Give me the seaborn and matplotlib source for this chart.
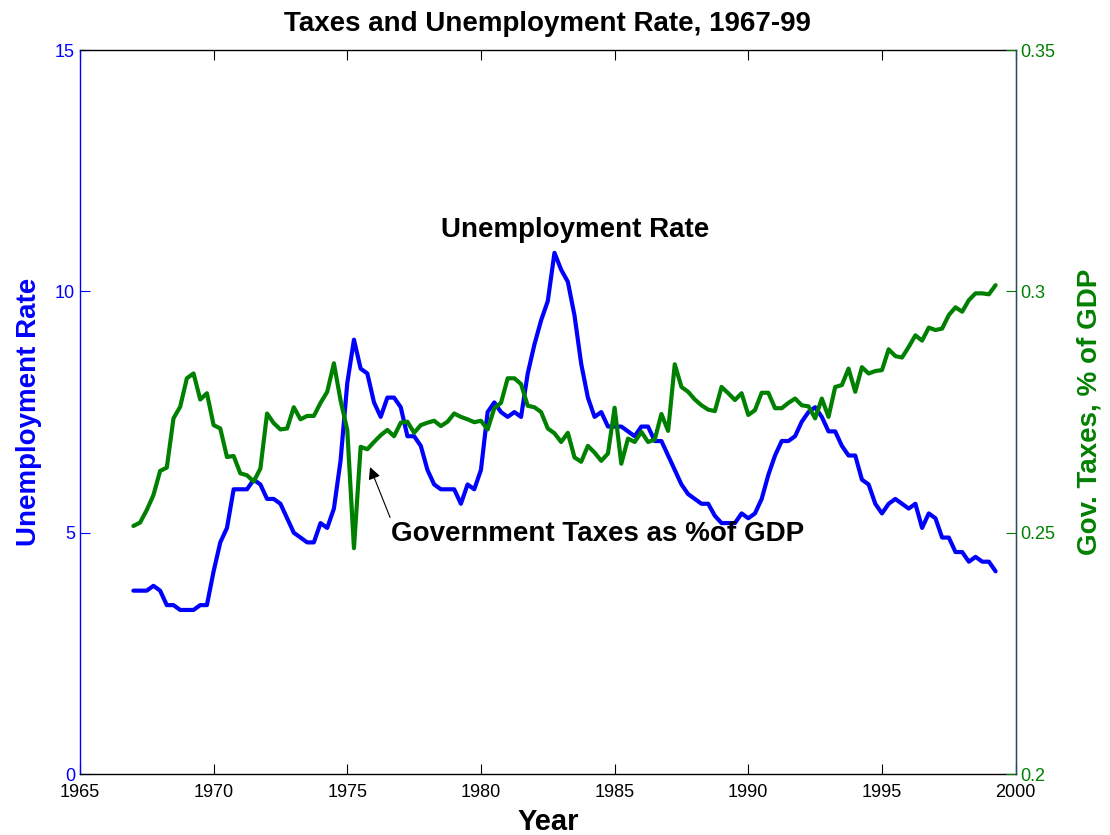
import numpy as np
import pandas as pd
import matplotlib
matplotlib.use("Agg")
import matplotlib.pyplot as plt
import seaborn as sns

# quarterly data, 1967Q1 .. 1999Q2
START_YEAR = 1967
unemployment = [
    3.8, 3.8, 3.8, 3.9, 3.8, 3.5, 3.5, 3.4, 3.4, 3.4, 3.5, 3.5, 4.2, 4.8, 5.1, 5.9, 5.9, 5.9, 6.1, 6.0, 5.7, 5.7,
    5.6, 5.3, 5.0, 4.9, 4.8, 4.8, 5.2, 5.1, 5.5, 6.5, 8.1, 9.0, 8.4, 8.3, 7.7, 7.4, 7.8, 7.8, 7.6, 7.0,
    7.0, 6.8, 6.3, 6.0, 5.9, 5.9, 5.9, 5.6, 6.0, 5.9, 6.3, 7.5, 7.7, 7.5, 7.4, 7.5, 7.4, 8.3, 8.9, 9.4, 9.8, 10.8, 10.45,
    10.2, 9.5, 8.5, 7.8, 7.4, 7.5, 7.2, 7.2, 7.2, 7.1, 7.0, 7.2, 7.2, 6.9, 6.9, 6.6, 6.3, 6.0, 5.8, 5.7, 5.6, 5.6,
    5.35, 5.2, 5.2, 5.2, 5.4, 5.3, 5.4, 5.7, 6.2, 6.6, 6.9, 6.9, 7.0, 7.3, 7.5, 7.6, 7.4, 7.1, 7.1, 6.8, 6.6, 6.6,
    6.1, 6.0, 5.6, 5.4, 5.6, 5.7, 5.6, 5.5, 5.6, 5.1, 5.4, 5.3, 4.9, 4.9, 4.6, 4.6, 4.4, 4.5, 4.4, 4.4, 4.2,
]
taxes_gdp = [
    .2514, .2521, .2547, .2578, .2628, .2635, .2737, .2761, .2820, .2830, .2776, .2789, .2723, .2716, .2657, .2659,
    .2623, .2619, .2606, .2633, .2747, .2727,
    .2714, .2716, .2760, .2735, .2742, .2742, .2769, .2792, .2851, .2774, .2713, .2468, .2678, .2673, .2688, .2702,
    .2713, .2700, .2728, .2730,
    .2707, .2723, .2728, .2732, .2721, .2730, .2747, .2740, .2735, .2729, .2732, .2714, .2758, .2769, .2820, .2820,
    .2808, .2763, .2760, .2750, .2716, .2706, .2688,
    .2707, .2656, .2647, .2680, .2666, .2649, .2664, .2759, .2643, .2695, .2688, .2709, .2688, .2693, .2746, .2711,
    .2849, .2802, .2792, .2776, .2764, .2755,
    .2752, .2802, .2789, .2775, .2789, .2744, .2754, .2790, .2790, .2758, .2758, .2769, .2778, .2764, .2762, .2737,
    .2778, .2740, .2802, .2806, .2840, .2792,
    .2843, .2830, .2835, .2837, .2880, .2866, .2863, .2885, .2909, .2898, .2925, .2920, .2923, .2951, .2967, .2958,
    .2982, .2996, .2996, .2994, .3013,
]
x_ticks = [1965, 1970, 1975, 1980, 1985, 1990, 1995, 2000]
left_ticks = [0, 5, 10, 15]
right_ticks = [0.2, 0.25, 0.3, 0.35]
right_tick_labels = ["0.2", "0.25", "0.3", "0.35"]

BLUE = "#0000ff"
GREEN = "#008000"

df = pd.DataFrame({
    "year": START_YEAR + np.arange(len(unemployment)) * 0.25,
    "unemp": unemployment,
    "tax": taxes_gdp,
})

sns.set_style("white")
plt.rcParams["font.family"] = ["Liberation Sans", "DejaVu Sans"]
plt.rcParams["text.color"] = "black"
plt.rcParams["axes.labelcolor"] = "black"

fig = plt.figure(figsize=(11.1, 8.35), dpi=100)
ax = fig.add_axes([0.072, 0.073, 0.843, 0.867])
ax2 = ax.twinx()

sns.lineplot(data=df, x="year", y="unemp", ax=ax, color=BLUE, linewidth=3.0)
sns.lineplot(data=df, x="year", y="tax", ax=ax2, color=GREEN, linewidth=3.0)

ax.set_xlim(1965, 2000)
ax.set_ylim(0, 15)
ax2.set_ylim(0.2, 0.35)
ax.set_xticks(x_ticks)
ax.set_xticklabels([str(t) for t in x_ticks], fontsize=13)
ax.set_yticks(left_ticks)
ax.set_yticklabels([str(t) for t in left_ticks], fontsize=13, color=BLUE)
ax2.set_yticks(right_ticks)
ax2.set_yticklabels(right_tick_labels, fontsize=13, color=GREEN)

ax.tick_params(axis="x", direction="in", length=7, top=True, bottom=True, colors="black", pad=7)
ax.tick_params(axis="y", direction="in", length=7, colors=BLUE, left=True, right=False)
ax2.tick_params(axis="y", direction="in", length=7, colors=GREEN, right=True, left=False)
ax2.tick_params(axis="x", top=False, bottom=False)

for sp in ax.spines.values():
    sp.set_linewidth(1.0)
ax.spines["left"].set_color(BLUE)
ax.spines["top"].set_color("black")
ax.spines["bottom"].set_color("black")
ax2.spines["right"].set_color("#1f5060")
ax2.spines["left"].set_visible(False)
ax2.spines["top"].set_visible(False)
ax2.spines["bottom"].set_visible(False)

ax.set_xlabel("Year", fontsize=21, fontweight="bold", labelpad=5)
ax.set_ylabel("Unemployment Rate", fontsize=20, fontweight="bold", color=BLUE, labelpad=9)
ax2.set_ylabel("Gov. Taxes, % of GDP", fontsize=20, fontweight="bold", color=GREEN, labelpad=15)
ax.set_title("Taxes and Unemployment Rate, 1967-99", fontsize=20, fontweight="bold", pad=14)

ax.text(1978.5, 11.27, "Unemployment Rate", fontsize=20, fontweight="bold",
        ha="left", va="center")
ax.annotate("Government Taxes as %of GDP", xy=(1975.85, 6.36), xytext=(1976.65, 4.98),
            fontsize=20, fontweight="bold", ha="left", va="center",
            arrowprops=dict(arrowstyle="-|>", color="black", lw=0.8, shrinkA=0, shrinkB=0,
                            mutation_scale=18, relpos=(0.0, 1.0)))

fig.savefig("out.png", dpi=100)
